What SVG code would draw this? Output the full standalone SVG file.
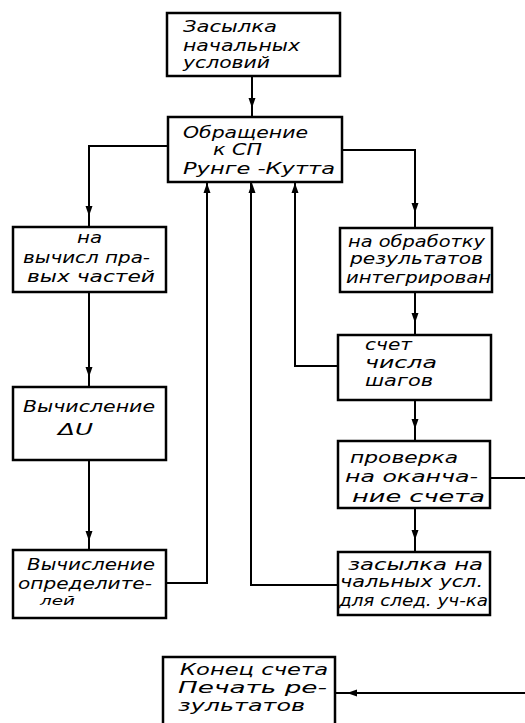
<svg xmlns="http://www.w3.org/2000/svg" width="525" height="723" viewBox="0 0 525 723">
<style>
.box{fill:#fff;stroke:#000;stroke-width:2.5}
.ln{fill:none;stroke:#000;stroke-width:2}
.t{font-family:"DejaVu Sans","Liberation Sans",sans-serif;font-style:italic;font-size:15px;fill:#000}
</style>
<defs>
<path id="ad" d="M0,0 L-3.5,-10 L3.5,-10 Z" fill="#000"/>
</defs>
<rect width="525" height="723" fill="#fff"/>
<g id="connectors">
<path class="ln" d="M252,76 V117"/>
<use href="#ad" transform="translate(252,108)"/>
<path class="ln" d="M168,146 H89 V227"/>
<use href="#ad" transform="translate(89,216)"/>
<path class="ln" d="M89,292 V387"/>
<use href="#ad" transform="translate(89,377)"/>
<path class="ln" d="M89,460 V550"/>
<use href="#ad" transform="translate(89,541)"/>
<path class="ln" d="M166,583 H207 V183"/>
<use href="#ad" transform="translate(207,183) rotate(180)"/>
<path class="ln" d="M342,150 H415 V228"/>
<use href="#ad" transform="translate(415,213)"/>
<path class="ln" d="M415,292 V335"/>
<use href="#ad" transform="translate(415,323)"/>
<path class="ln" d="M338,366 H295 V183"/>
<use href="#ad" transform="translate(295,183) rotate(180)"/>
<path class="ln" d="M415,400 V441"/>
<use href="#ad" transform="translate(415,429)"/>
<path class="ln" d="M415,508 V552"/>
<use href="#ad" transform="translate(415,540)"/>
<path class="ln" d="M338,585 H251 V183"/>
<use href="#ad" transform="translate(252,183) rotate(180)"/>
<path class="ln" d="M490,478 H525"/>
<path class="ln" d="M525,693 H336"/>
<use href="#ad" transform="translate(347,693) rotate(90)"/>
</g>
<g id="n1">
<rect class="box" x="167" y="13" width="173" height="63"/>
<text class="t" x="183" y="32" textLength="94" lengthAdjust="spacingAndGlyphs">Засылка</text>
<text class="t" x="183" y="51" textLength="117" lengthAdjust="spacingAndGlyphs">начальных</text>
<text class="t" x="183" y="68" textLength="87" lengthAdjust="spacingAndGlyphs">условий</text>
</g>
<g id="n2">
<rect class="box" x="168" y="117" width="174" height="65"/>
<text class="t" x="183" y="138" textLength="125" lengthAdjust="spacingAndGlyphs">Обращение</text>
<text class="t" x="213" y="155" textLength="49" lengthAdjust="spacingAndGlyphs">к СП</text>
<text class="t" x="183" y="174" textLength="152" lengthAdjust="spacingAndGlyphs">Рунге -Кутта</text>
</g>
<g id="n3">
<rect class="box" x="13" y="227" width="153" height="65"/>
<text class="t" x="77" y="243" textLength="25" lengthAdjust="spacingAndGlyphs">на</text>
<text class="t" x="23" y="263" textLength="127" lengthAdjust="spacingAndGlyphs">вычисл пра-</text>
<text class="t" x="27" y="282" textLength="128" lengthAdjust="spacingAndGlyphs">вых частей</text>
</g>
<g id="n4">
<rect class="box" x="13" y="387" width="153" height="73"/>
<text class="t" x="23" y="412" textLength="132" lengthAdjust="spacingAndGlyphs">Вычисление</text>
<text class="t" x="58" y="435" textLength="35" lengthAdjust="spacingAndGlyphs">ΔU</text>
</g>
<g id="n5">
<rect class="box" x="13" y="550" width="153" height="68"/>
<text class="t" x="27" y="570" textLength="128" lengthAdjust="spacingAndGlyphs">Вычисление</text>
<text class="t" x="18" y="589" textLength="134" lengthAdjust="spacingAndGlyphs">определите-</text>
<text class="t" x="40" y="605" textLength="35" lengthAdjust="spacingAndGlyphs" style="font-size:13px">лей</text>
</g>
<g id="n6">
<rect class="box" x="340" y="228" width="152" height="64"/>
<text class="t" x="348" y="247" textLength="137" lengthAdjust="spacingAndGlyphs">на обработку</text>
<text class="t" x="350" y="264" textLength="133" lengthAdjust="spacingAndGlyphs">результатов</text>
<text class="t" x="346" y="283" textLength="145" lengthAdjust="spacingAndGlyphs">интегрирован</text>
</g>
<g id="n7">
<rect class="box" x="338" y="335" width="153" height="65"/>
<text class="t" x="365" y="350" textLength="47" lengthAdjust="spacingAndGlyphs">счет</text>
<text class="t" x="365" y="368" textLength="72" lengthAdjust="spacingAndGlyphs">числа</text>
<text class="t" x="365" y="386" textLength="68" lengthAdjust="spacingAndGlyphs">шагов</text>
</g>
<g id="n8">
<rect class="box" x="338" y="441" width="152" height="67"/>
<text class="t" x="350" y="463" textLength="108" lengthAdjust="spacingAndGlyphs">проверка</text>
<text class="t" x="345" y="482" textLength="133" lengthAdjust="spacingAndGlyphs">на оканча-</text>
<text class="t" x="352" y="502" textLength="133" lengthAdjust="spacingAndGlyphs">ние счета</text>
</g>
<g id="n9">
<rect class="box" x="338" y="552" width="152" height="63"/>
<text class="t" x="348" y="570" textLength="135" lengthAdjust="spacingAndGlyphs">засылка на</text>
<text class="t" x="340" y="587" textLength="143" lengthAdjust="spacingAndGlyphs">чальных усл.</text>
<text class="t" x="339" y="606" textLength="149" lengthAdjust="spacingAndGlyphs">для след. уч-ка</text>
</g>
<g id="n10">
<path class="box" d="M163,730 V657 H335 V730"/>
<text class="t" x="180" y="675" textLength="148" lengthAdjust="spacingAndGlyphs">Конец счета</text>
<text class="t" x="178" y="693" textLength="149" lengthAdjust="spacingAndGlyphs">Печать ре-</text>
<text class="t" x="178" y="711" textLength="127" lengthAdjust="spacingAndGlyphs">зультатов</text>
</g>
</svg>
